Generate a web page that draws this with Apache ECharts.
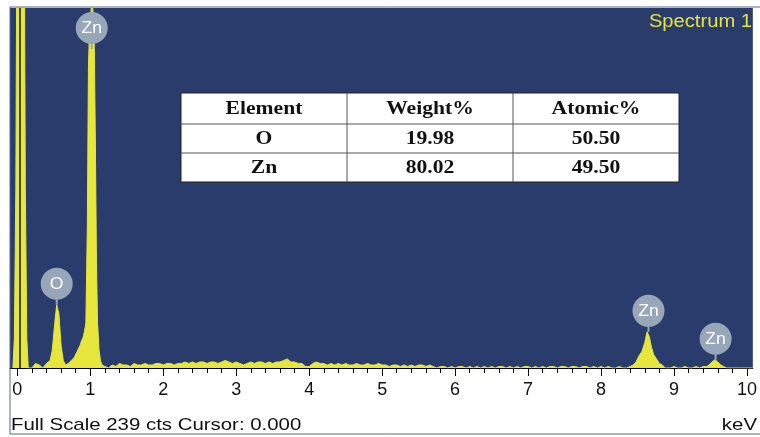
<!DOCTYPE html>
<html>
<head>
<meta charset="utf-8">
<script src="https://cdn.jsdelivr.net/npm/echarts@6/dist/echarts.min.js"></script>
<style>
html,body{margin:0;padding:0;background:#fff;}
#chart{width:760px;height:437px;}
</style>
</head>
<body>
<div id="chart"></div>
<script>
// ---- data (energy keV, counts) ----
var zeroPeak = [[-0.06,0],[-0.04,20],[-0.02,120],[-0.005,300],[0.095,300],[0.11,120],[0.13,20],[0.15,0]];
var lowNoise = [[0.20,0],[0.25,3],[0.30,2],[0.35,0],[0.40,3]];
var oPeak = [[0.42,2],[0.45,5],[0.48,12],[0.51,28],[0.54,42],[0.57,36],[0.60,15],[0.63,5],[0.66,2],[0.70,3],[0.74,5],[0.78,7],[0.82,11],[0.86,15],[0.88,18],[0.90,20],[0.92,24]];
var znLPeak = [[0.94,30],[0.96,95],[0.975,200],[0.99,225],[1.01,236],[1.025,248],[1.04,233],[1.055,215],[1.07,150],[1.085,70],[1.10,30],[1.12,12],[1.14,5],[1.16,2],[1.18,1]];
var midNoise = [[1.20,1],[1.25,0],[1.30,2],[1.35,1],[1.40,3],[1.45,2],[1.50,2],[1.55,1],[1.60,3],[1.65,2],[1.70,2],[1.75,3],[1.80,2],[1.85,2],[1.90,3],[1.95,3],[2.00,2],[2.05,3],[2.10,3],[2.15,2],[2.20,3],[2.25,3],[2.30,4],[2.35,3],[2.40,4],[2.45,3],[2.50,4],[2.55,4],[2.60,3],[2.65,4],[2.70,4],[2.75,3],[2.80,4],[2.85,5],[2.90,4],[2.95,3],[3.00,4],[3.05,3],[3.10,2],[3.15,3],[3.20,4],[3.25,3],[3.30,4],[3.35,4],[3.40,3],[3.45,4],[3.50,3],[3.55,4],[3.60,4],[3.65,5],[3.70,6],[3.75,4],[3.80,4],[3.85,3],[3.90,3],[3.95,1],[4.00,1],[4.05,3],[4.10,4],[4.15,3],[4.20,3],[4.25,2],[4.30,3],[4.35,2],[4.40,3],[4.45,2],[4.50,3],[4.55,2],[4.60,2],[4.65,3],[4.70,2],[4.75,2],[4.80,3],[4.85,2],[4.90,2],[4.95,3],[5.00,2]];
var highNoise = [[5.05,2],[5.10,1],[5.15,2],[5.20,2],[5.25,1],[5.30,2],[5.35,1],[5.40,2],[5.45,1],[5.50,2],[5.55,2],[5.60,1],[5.65,2],[5.70,1],[5.75,0],[5.80,1],[5.85,1],[5.90,0],[5.95,1],[6.00,0],[6.05,1],[6.10,1],[6.15,0],[6.20,1],[6.25,0],[6.30,1],[6.35,0],[6.40,1],[6.45,0],[6.50,1],[6.55,0],[6.60,1],[6.65,1],[6.70,0],[6.75,1],[6.80,0],[6.85,1],[6.90,0],[6.95,1],[7.00,1],[7.05,0],[7.10,1],[7.15,0],[7.20,1],[7.25,0],[7.30,1],[7.35,1],[7.40,0],[7.45,1],[7.50,1],[7.55,0],[7.60,1],[7.65,1],[7.70,0],[7.75,1],[7.80,1],[7.85,0],[7.90,1],[7.95,0],[8.00,1],[8.05,0],[8.10,1],[8.15,0],[8.20,0],[8.25,1],[8.30,0],[8.35,0],[8.40,1]];
var znKaPeak = [[8.44,2],[8.48,4],[8.52,8],[8.56,11],[8.60,17],[8.63,24],[8.66,21],[8.69,14],[8.72,9],[8.76,6],[8.80,3],[8.84,2],[8.88,0]];
var tailNoise = [[8.95,0],[9.00,1],[9.05,0],[9.10,0],[9.15,1],[9.20,0],[9.25,0],[9.30,1],[9.35,0],[9.40,1],[9.45,1]];
var znKbPeak = [[9.48,2],[9.52,4],[9.56,5.5],[9.60,4],[9.64,2],[9.68,1],[9.72,0],[9.80,0],[9.90,0],[10.0,0],[10.08,0]];

var peakLabels = [[1.02,239,'Zn'],[0.54,42,'O'],[8.65,24,'Zn'],[9.57,5.5,'Zn']];
var tickLabels = [0,1,2,3,4,5,6,7,8,9,10];
var cursorKeV = 0.03;
var fullScale = 239;

var tableHeader = ['Element','Weight%','Atomic%'];
var elements = ['O','Zn'];
var weightPct = ['19.98','80.02'];
var atomicPct = ['50.50','49.50'];

// ---- build ----
var spectrum = [].concat(zeroPeak, lowNoise, oPeak, znLPeak, midNoise, highNoise, znKaPeak, tailNoise, znKbPeak);
var minorTicks = [];
for (var i = 0; i <= 50; i++) minorTicks.push(+(i * 0.2).toFixed(1));

var YEL = '#e6e63c';
var LBL = '#97a6b9';
var chart = echarts.init(document.getElementById('chart'), null, {renderer:'canvas'});

// table graphic
var colX = [181, 347, 513, 679];
var rowY = [93, 124, 153, 182];
var tableEls = [{
  type:'rect', shape:{x:colX[0], y:rowY[0], width:colX[3]-colX[0], height:rowY[3]-rowY[0]},
  style:{fill:'#fff', stroke:'#222', lineWidth:1}, z:50
}];
[rowY[1], rowY[2]].forEach(function(y){
  tableEls.push({type:'line', shape:{x1:colX[0], y1:y, x2:colX[3], y2:y}, style:{stroke:'#555', lineWidth:1}, z:51});
});
[colX[1], colX[2]].forEach(function(x){
  tableEls.push({type:'line', shape:{x1:x, y1:rowY[0], x2:x, y2:rowY[3]}, style:{stroke:'#555', lineWidth:1}, z:51});
});
var rows = [tableHeader].concat(elements.map(function(e,i){return [e, weightPct[i], atomicPct[i]];}));
rows.forEach(function(r, ri){
  r.forEach(function(t, ci){
    tableEls.push({
      type:'text', x:(colX[ci]+colX[ci+1])/2, y:(rowY[ri]+rowY[ri+1])/2 + 1, scaleX:1.2, z:52,
      style:{text:t, fill:'#111', font:'bold 18px "Liberation Serif", "Times New Roman", serif', textAlign:'center', textVerticalAlign:'middle'}
    });
  });
});

var option = {
  backgroundColor:'#fff',
  animation:false,
  grid:{left:10, right:3, top:8, bottom:69, show:true, backgroundColor:'#2a3c6b', borderWidth:0},
  xAxis:[{
    type:'value', min:-0.1, max:10.08, position:'bottom',
    axisLine:{show:true, onZero:false, lineStyle:{color:'#000', width:1}},
    axisTick:{show:true, customValues:tickLabels, length:8, lineStyle:{color:'#000', width:1}},
    axisLabel:{show:true, customValues:tickLabels, margin:13, fontSize:18, color:'#111', fontFamily:'"Liberation Sans", Arial, sans-serif'},
    splitLine:{show:false}
  },{
    type:'value', min:-0.1, max:10.08, position:'bottom',
    axisLine:{show:false, onZero:false},
    axisTick:{show:true, customValues:minorTicks, length:5, lineStyle:{color:'#000', width:1}},
    axisLabel:{show:false},
    splitLine:{show:false}
  }],
  yAxis:{type:'value', min:0, max:fullScale, show:false, splitLine:{show:false}},
  series:[{
    type:'line', data:spectrum, symbol:'none', clip:true,
    lineStyle:{color:YEL, width:1}, areaStyle:{color:YEL, opacity:1},
    z:3,
    markLine:{silent:true, symbol:'none', label:{show:false},
      lineStyle:{color:'#111', width:1.5, type:'solid'},
      data:[{xAxis:cursorKeV}]}
  },{
    type:'custom', data:peakLabels, clip:false, z:10,
    renderItem:function(params, api){
      var p = api.coord([api.value(0), api.value(1)]);
      var top = params.coordSys.y;
      var cy = Math.max(p[1] - 21, top + 20);
      var cx = p[0];
      return {type:'group', children:[
        {type:'line', shape:{x1:cx, y1:cy + 10, x2:cx, y2:cy + 21}, style:{stroke:LBL, lineWidth:2}},
        {type:'circle', shape:{cx:cx, cy:cy, r:16}, style:{fill:LBL}},
        {type:'text', x:cx, y:cy+1, scaleX:1.1, style:{text:api.value(2), fill:'#fff', font:'16px "Liberation Sans", Arial, sans-serif', textAlign:'center', textVerticalAlign:'middle'}}
      ]};
    }
  }],
  graphic:[
    {type:'rect', shape:{x:10, y:7, width:760, height:427}, style:{fill:'none', stroke:'#56678c', lineWidth:1}, z:100},
    {type:'text', x:752, y:22, scaleX:1.12, style:{text:'Spectrum 1', fill:'#e3e33a', font:'18px "Liberation Sans", Arial, sans-serif', textAlign:'right', textVerticalAlign:'middle'}, z:100},
    {type:'text', x:11, y:425, scaleX:1.2, style:{text:'Full Scale ' + fullScale + ' cts Cursor: 0.000', fill:'#111', font:'17px "Liberation Sans", Arial, sans-serif', textAlign:'left', textVerticalAlign:'middle'}, z:100},
    {type:'text', x:757, y:425, scaleX:1.2, style:{text:'keV', fill:'#111', font:'17px "Liberation Sans", Arial, sans-serif', textAlign:'right', textVerticalAlign:'middle'}, z:100}
  ].concat(tableEls)
};
chart.setOption(option);
</script>
</body>
</html>
